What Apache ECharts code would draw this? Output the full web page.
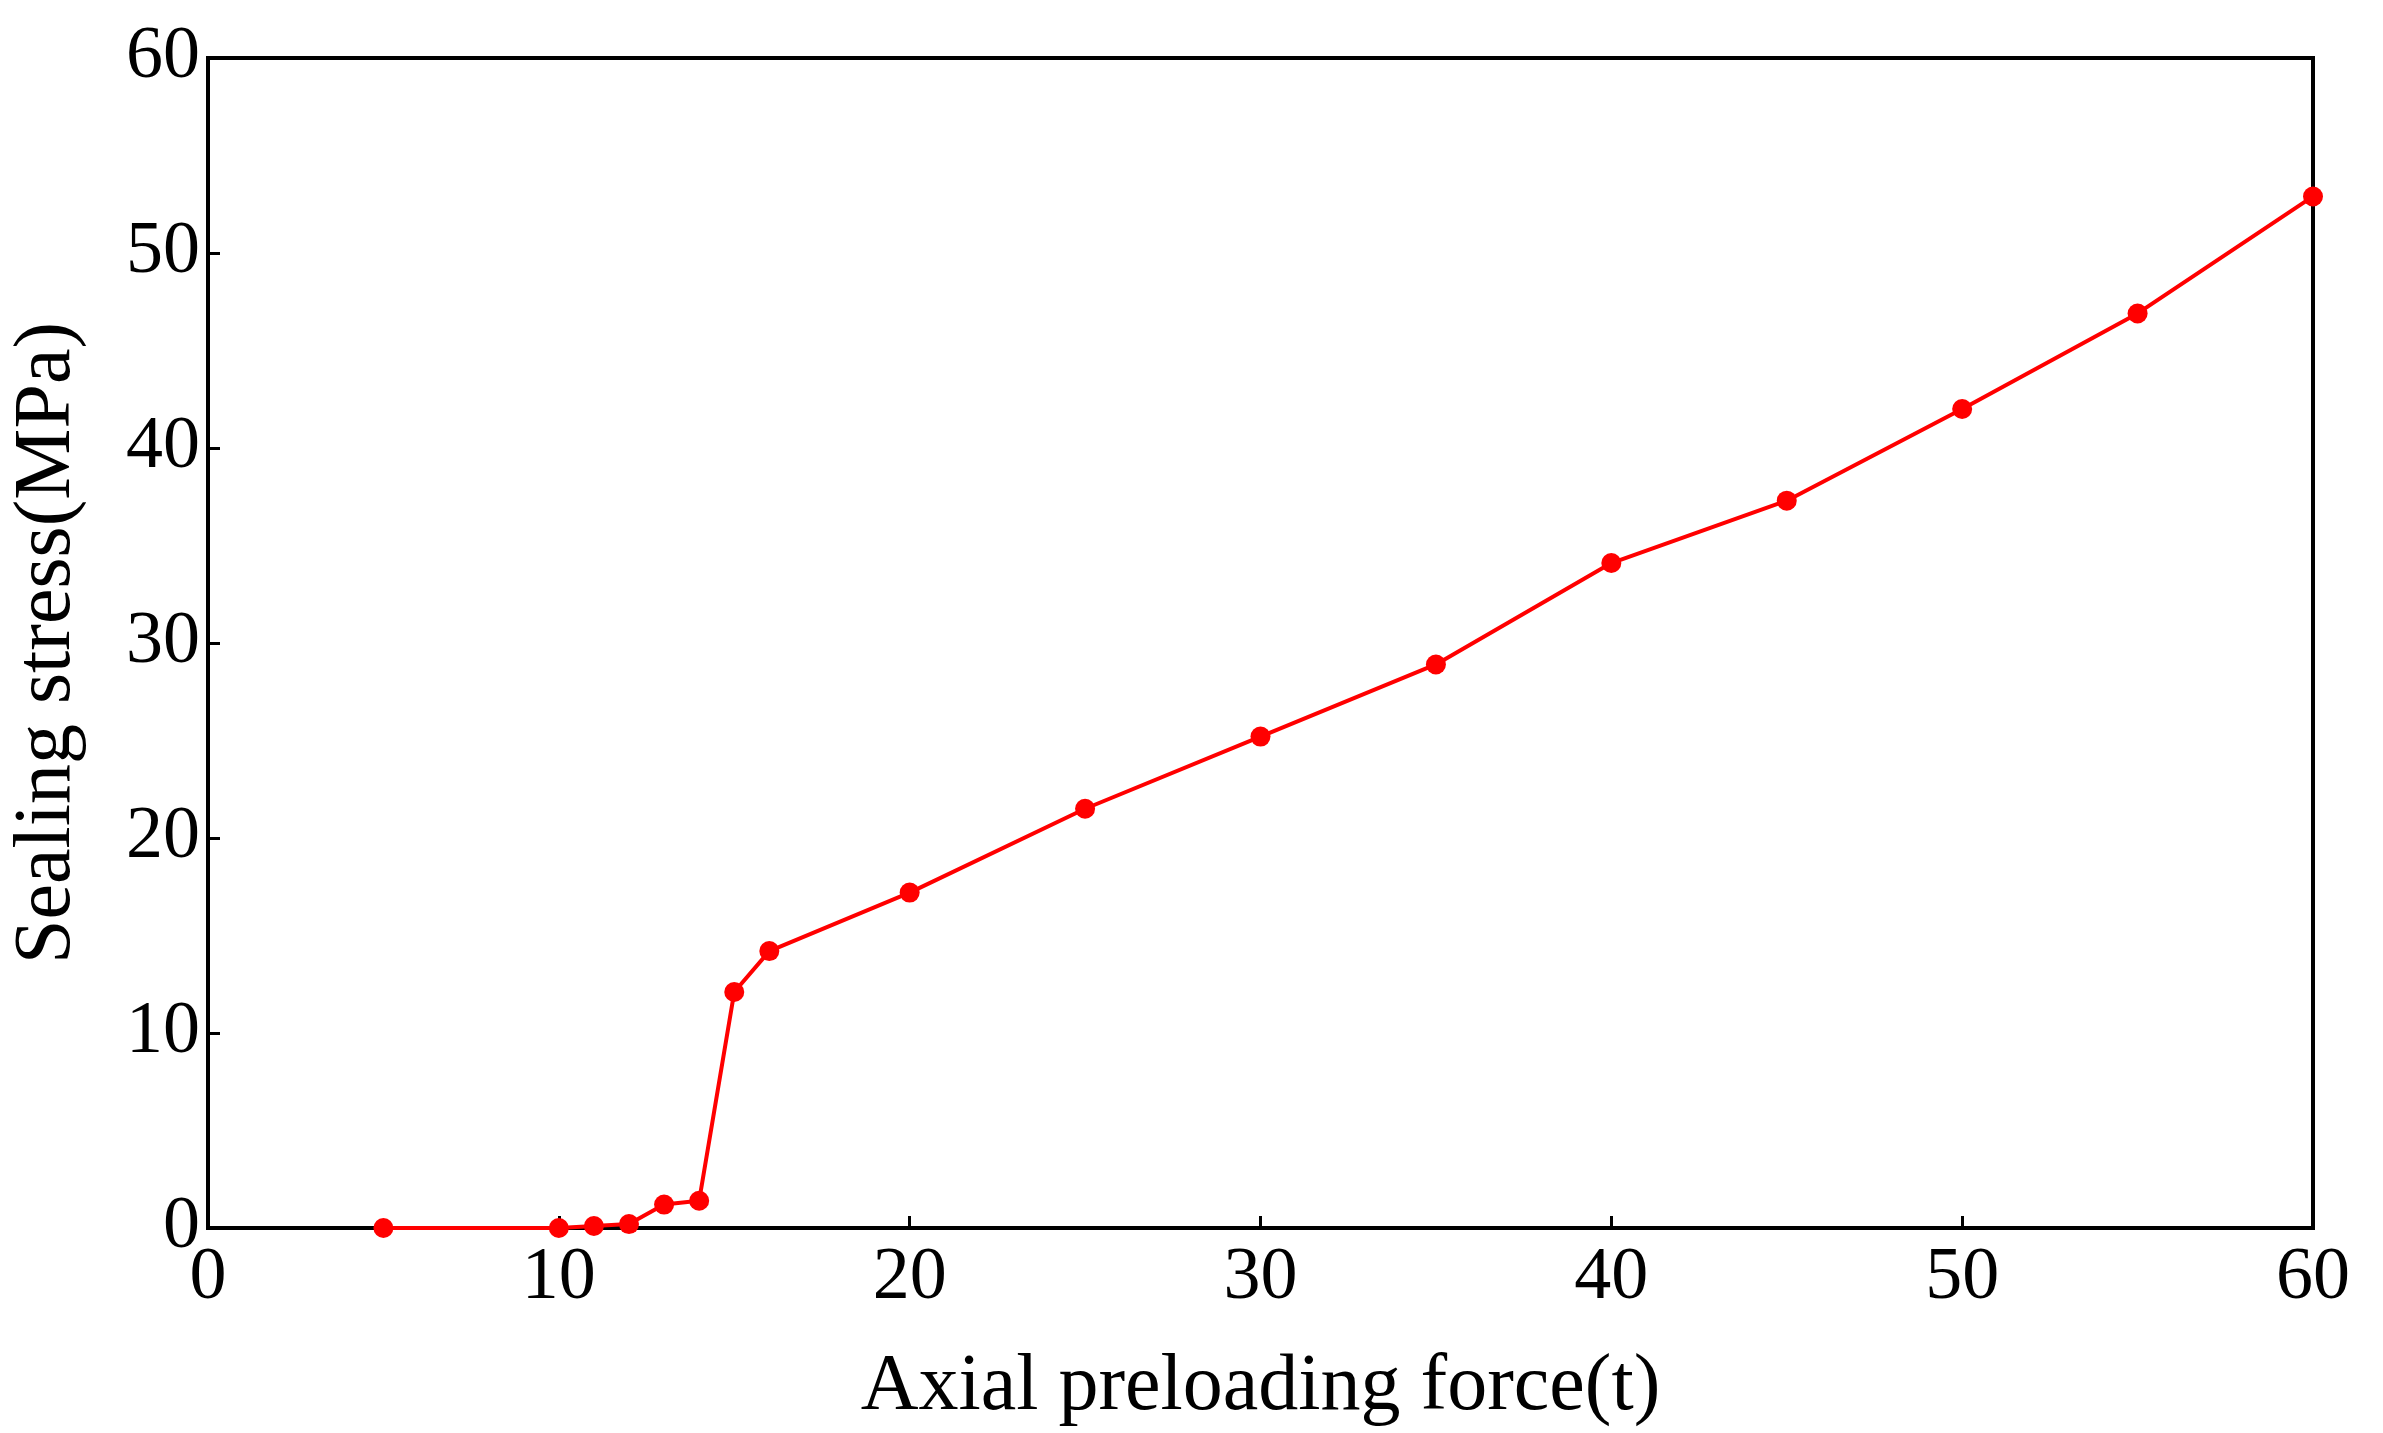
<!DOCTYPE html>
<html>
<head>
<meta charset="utf-8">
<script src="https://cdn.jsdelivr.net/npm/echarts@6/dist/echarts.min.js"></script>
<style>html,body{margin:0;background:#fff}#c{width:2383px;height:1433px}</style>
</head>
<body>
<div id="c"></div>
<script>
// preload force (t) vs sealing stress (MPa)
const forceT = [5, 10, 11, 12, 13, 14, 15, 16, 20, 25, 30, 35, 40, 45, 50, 55, 60];
const stressMPa = [0, 0, 0.1, 0.2, 1.2, 1.4, 12.1, 14.2, 17.2, 21.5, 25.2, 28.9, 34.1, 37.3, 42.0, 46.9, 52.9];

const chart = echarts.init(document.getElementById('c'));
const font = 'Liberation Serif';
const axisCommon = {
  min: 0, max: 60, interval: 10,
  axisLine: { show: true, onZero: false, lineStyle: { color: '#000', width: 4 } },
  axisTick: { show: true, inside: true, length: 12, lineStyle: { color: '#000', width: 3 } },
  splitLine: { show: false },
  axisLabel: { color: '#000', fontFamily: font, fontSize: 74 },
  nameLocation: 'middle',
  nameTextStyle: { color: '#000', fontFamily: font, fontSize: 80 }
};
chart.setOption({
  backgroundColor: '#fff',
  animation: false,
  grid: { left: 198, right: 70, top: 58, bottom: 202, show: true, borderColor: '#000', borderWidth: 4 },
  xAxis: Object.assign({}, axisCommon, {
    type: 'value', name: 'Axial preloading force(t)', nameGap: 120,
    axisLabel: Object.assign({}, axisCommon.axisLabel, { margin: 14 })
  }),
  yAxis: Object.assign({}, axisCommon, {
    type: 'value', name: 'Sealing stress(MPa)', nameGap: 120,
    axisLabel: Object.assign({}, axisCommon.axisLabel, { margin: 8 })
  }),
  series: [{
    type: 'line',
    data: forceT.map((x, i) => [x, stressMPa[i]]),
    symbol: 'circle', symbolSize: 20,
    lineStyle: { color: '#ff0000', width: 4 },
    itemStyle: { color: '#ff0000' }
  }]
});
</script>
</body>
</html>
